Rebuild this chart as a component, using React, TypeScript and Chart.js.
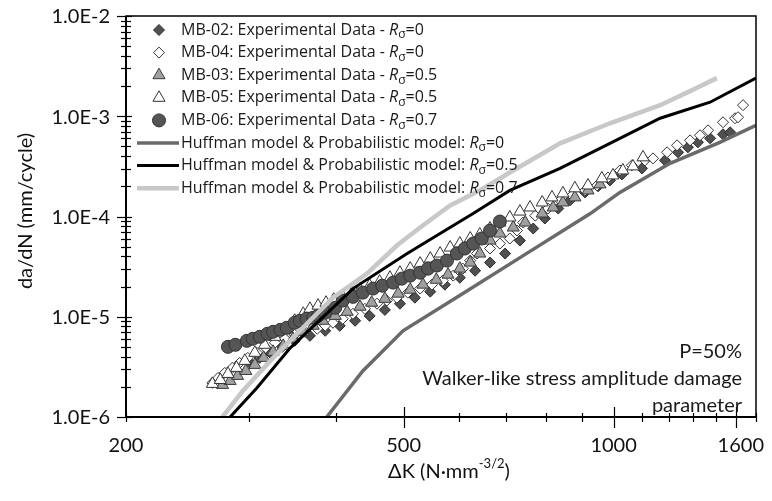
import React, { useEffect, useRef } from "react";
import { Chart, registerables } from "chart.js";

Chart.register(...registerables);

const FONT = "Lato, 'Open Sans', sans-serif";
const LEGEND_FONT = "'Open Sans', Lato, sans-serif";

// ΔK in N·mm^-3/2, da/dN in mm/cycle
const mb02DeltaK = [301, 311, 322, 335, 349, 367, 386, 405, 426, 447, 470, 494, 519, 546, 573, 602, 633, 665, 699, 734, 767, 797, 833, 866, 910, 950, 988, 1028, 1098, 1185, 1237, 1278, 1321, 1375, 1435, 1469];
const mb02Rate = [3.47e-6, 3.89e-6, 4.37e-6, 5.01e-6, 5.75e-6, 6.46e-6, 7.24e-6, 8.13e-6, 9.12e-6, 1.02e-5, 1.17e-5, 1.35e-5, 1.55e-5, 1.78e-5, 2.09e-5, 2.45e-5, 2.88e-5, 3.47e-5, 4.27e-5, 5.75e-5, 7.59e-5, 9.55e-5, 1.2e-4, 1.45e-4, 1.74e-4, 2.0e-4, 2.29e-4, 2.63e-4, 3.02e-4, 3.63e-4, 4.37e-4, 4.9e-4, 5.5e-4, 6.03e-4, 6.61e-4, 6.92e-4];

const mb04DeltaK = [266, 271, 277, 284, 291, 299, 308, 317, 327, 338, 349, 361, 376, 386, 396, 409, 423, 440, 458, 473, 489, 507, 528, 549, 569, 589, 608, 623, 637, 665, 687, 710, 727, 742, 772, 805, 838, 872, 910, 947, 982, 1021, 1062, 1109, 1139, 1193, 1233, 1287, 1330, 1366, 1435, 1493, 1508, 1533];
const mb04Rate = [2.19e-6, 2.45e-6, 2.75e-6, 3.09e-6, 3.47e-6, 3.89e-6, 4.37e-6, 4.9e-6, 5.5e-6, 6.03e-6, 6.61e-6, 7.08e-6, 7.59e-6, 8.13e-6, 8.71e-6, 9.55e-6, 1.07e-5, 1.2e-5, 1.35e-5, 1.45e-5, 1.55e-5, 1.74e-5, 1.91e-5, 2.09e-5, 2.29e-5, 2.57e-5, 3.02e-5, 3.63e-5, 4.27e-5, 4.79e-5, 5.37e-5, 6.03e-5, 7.24e-5, 8.71e-5, 1.02e-4, 1.2e-4, 1.45e-4, 1.62e-4, 1.82e-4, 2.04e-4, 2.45e-4, 2.88e-4, 3.24e-4, 3.63e-4, 3.8e-4, 4.37e-4, 5.13e-4, 5.75e-4, 6.46e-4, 7.24e-4, 8.71e-4, 9.55e-4, 9.77e-4, 1.29e-3];

const mb03DeltaK = [275, 282, 289, 297, 306, 315, 325, 336, 347, 359, 371, 383, 399, 415, 433, 450, 470, 491, 511, 533, 557, 579, 602, 623, 643, 665, 687, 718, 747, 790, 819, 846, 880, 919, 956];
const mb03Rate = [2.09e-6, 2.29e-6, 2.57e-6, 2.88e-6, 3.31e-6, 3.89e-6, 4.47e-6, 5.13e-6, 6.03e-6, 7.08e-6, 8.13e-6, 9.12e-6, 1.02e-5, 1.12e-5, 1.26e-5, 1.38e-5, 1.51e-5, 1.7e-5, 1.86e-5, 2.09e-5, 2.34e-5, 2.63e-5, 3.02e-5, 3.47e-5, 4.27e-5, 5.75e-5, 6.76e-5, 7.76e-5, 8.71e-5, 1.07e-4, 1.23e-4, 1.38e-4, 1.55e-4, 1.82e-4, 2.09e-4];

const mb05DeltaK = [266, 273, 280, 288, 296, 306, 316, 327, 338, 349, 359, 367, 377, 387, 397, 409, 422, 433, 447, 462, 478, 494, 511, 528, 546, 564, 583, 602, 623, 643, 665, 687, 710, 734, 759, 790, 816, 846, 880, 919, 962, 998, 1031, 1066, 1102];
const mb05Rate = [2.14e-6, 2.34e-6, 2.69e-6, 3.09e-6, 3.63e-6, 4.37e-6, 5.25e-6, 6.31e-6, 7.59e-6, 9.12e-6, 1.07e-5, 1.2e-5, 1.29e-5, 1.38e-5, 1.48e-5, 1.58e-5, 1.74e-5, 1.86e-5, 2.04e-5, 2.24e-5, 2.45e-5, 2.75e-5, 3.02e-5, 3.39e-5, 3.8e-5, 4.27e-5, 4.9e-5, 5.37e-5, 6.03e-5, 6.61e-5, 7.59e-5, 8.71e-5, 9.77e-5, 1.12e-4, 1.23e-4, 1.38e-4, 1.55e-4, 1.7e-4, 1.91e-4, 2.04e-4, 2.4e-4, 2.57e-4, 2.88e-4, 3.16e-4, 3.89e-4];

const mb06DeltaK = [280, 287, 298, 304, 311, 319, 325, 333, 340, 349, 355, 363, 371, 377, 386, 399, 409, 423, 437, 452, 466, 483, 497, 511, 528, 542, 558, 577, 596, 612, 629, 647, 665, 687];
const mb06Rate = [5.01e-6, 5.25e-6, 5.75e-6, 6.03e-6, 6.31e-6, 6.76e-6, 7.08e-6, 7.41e-6, 7.76e-6, 8.71e-6, 9.12e-6, 9.55e-6, 9.77e-6, 1.02e-5, 1.1e-5, 1.23e-5, 1.45e-5, 1.58e-5, 1.74e-5, 1.91e-5, 2.04e-5, 2.19e-5, 2.4e-5, 2.57e-5, 2.75e-5, 3.02e-5, 3.24e-5, 3.63e-5, 4.27e-5, 4.79e-5, 5.37e-5, 6.03e-5, 7.24e-5, 8.91e-5];

// Huffman & probabilistic model curves
const modelR0DeltaK = [388, 437, 499, 617, 742, 926, 1021, 1205, 1420, 1600];
const modelR0Rate = [1e-6, 2.88e-6, 7.24e-6, 1.82e-5, 4.07e-5, 1.07e-4, 1.74e-4, 3.39e-4, 5.5e-4, 8.13e-4];

const modelR05DeltaK = [282, 308, 344, 392, 423, 506, 564, 629, 710, 838, 988, 1166, 1375, 1600];
const modelR05Rate = [1e-6, 1.95e-6, 4.9e-6, 1.15e-5, 1.91e-5, 4.27e-5, 6.76e-5, 1.07e-4, 1.82e-4, 3.02e-4, 5.37e-4, 9.55e-4, 1.38e-3, 2.4e-3];

const modelR07DeltaK = [275, 294, 322, 355, 396, 443, 489, 528, 583, 643, 710, 838, 988, 1166, 1287, 1406];
const modelR07Rate = [1e-6, 1.82e-6, 3.63e-6, 7.24e-6, 1.55e-5, 2.69e-5, 5.13e-5, 7.76e-5, 1.29e-4, 1.82e-4, 2.75e-4, 5.37e-4, 8.51e-4, 1.29e-3, 1.78e-3, 2.4e-3];

// Axis ticks
const xTickValues = [200, 300, 400, 500, 600, 700, 800, 900, 1000, 1100, 1200, 1300, 1400, 1500, 1600];
const xMajorTicks = [500, 1000, 1500];
const xLabelValues = [200, 500, 1000, 1600];
const yDecades = [1e-6, 1e-5, 1e-4, 1e-3, 1e-2];
const yMantissas = [1, 2, 3, 4, 5, 6, 7, 8, 9];

const legendLabels = [
  "MB-02: Experimental Data - ",
  "MB-04: Experimental Data - ",
  "MB-03: Experimental Data - ",
  "MB-05: Experimental Data - ",
  "MB-06: Experimental Data - ",
  "Huffman model & Probabilistic model: ",
  "Huffman model & Probabilistic model: ",
  "Huffman model & Probabilistic model: ",
];
const legendRatios = ["0", "0", "0.5", "0.5", "0.7", "0", "0.5", "0.7"];

const noteLines = ["P=50%", "Walker-like stress amplitude damage", "parameter"];

const pts = (xs: number[], ys: number[]) => xs.map((x, i) => ({ x, y: ys[i] }));

const yTickValues: number[] = [];
yDecades.slice(0, -1).forEach((d) => yMantissas.forEach((m) => yTickValues.push(+(m * d).toPrecision(2))));
yTickValues.push(yDecades[yDecades.length - 1]);

type LegendItem = {
  kind: "point" | "line";
  style?: string;
  radius?: number;
  fill?: string;
  stroke?: string;
  width?: number;
};

const legendItems: LegendItem[] = [
  { kind: "point", style: "rectRot", radius: 5.5, fill: "#505050", stroke: "#2a2a2a" },
  { kind: "point", style: "rectRot", radius: 5.5, fill: "#ffffff", stroke: "#333333" },
  { kind: "point", style: "triangle", radius: 7, fill: "#a0a0a0", stroke: "#3a3a3a" },
  { kind: "point", style: "triangle", radius: 7, fill: "#ffffff", stroke: "#333333" },
  { kind: "point", style: "circle", radius: 6.5, fill: "#555555", stroke: "#333333" },
  { kind: "line", stroke: "#6a6a6a", width: 3.5 },
  { kind: "line", stroke: "#000000", width: 3 },
  { kind: "line", stroke: "#c8c8c8", width: 4.5 },
];

// legend marker shapes, same geometry as Chart.js point styles
function drawMarker(ctx: CanvasRenderingContext2D, style: string, r: number, x: number, y: number) {
  ctx.beginPath();
  if (style === "circle") {
    ctx.arc(x, y, r, 0, Math.PI * 2);
  } else if (style === "rectRot") {
    ctx.moveTo(x - r, y);
    ctx.lineTo(x, y - r);
    ctx.lineTo(x + r, y);
    ctx.lineTo(x, y + r);
  } else {
    const a = -Math.PI / 2;
    ctx.moveTo(x + Math.cos(a) * r, y + Math.sin(a) * r);
    ctx.lineTo(x + Math.cos(a + (2 * Math.PI) / 3) * r, y + Math.sin(a + (2 * Math.PI) / 3) * r);
    ctx.lineTo(x + Math.cos(a + (4 * Math.PI) / 3) * r, y + Math.sin(a + (4 * Math.PI) / 3) * r);
  }
  ctx.closePath();
  ctx.fill();
  ctx.stroke();
}

const decorations = {
  id: "decorations",
  afterDraw(chart: any) {
    const { ctx, chartArea: a } = chart;
    const xs = chart.scales.x;
    const ys = chart.scales.y;
    ctx.save();

    // frame
    ctx.strokeStyle = "#000";
    ctx.lineWidth = 1.5;
    ctx.strokeRect(a.left, a.top, a.right - a.left, a.bottom - a.top);
    ctx.lineWidth = 2;
    ctx.beginPath();
    ctx.moveTo(a.left, a.top);
    ctx.lineTo(a.left, a.bottom);
    ctx.lineTo(a.right, a.bottom);
    ctx.stroke();

    // y tick marks
    ctx.lineWidth = 1.2;
    yTickValues.forEach((v) => {
      const y = Math.round(ys.getPixelForValue(v)) + 0.5;
      const major = yDecades.some((d) => Math.abs(d - v) / d < 1e-6);
      ctx.beginPath();
      ctx.moveTo(a.left - (major ? 9 : 5), y);
      ctx.lineTo(a.left + (major ? 6 : 5), y);
      ctx.stroke();
    });
    // x tick marks
    xTickValues.forEach((v) => {
      const x = Math.round(xs.getPixelForValue(v)) + 0.5;
      const major = xMajorTicks.includes(v);
      ctx.beginPath();
      ctx.moveTo(x, a.bottom - (major ? 10 : 4));
      ctx.lineTo(x, a.bottom + (major ? 11 : 5));
      ctx.stroke();
    });

    // tick labels
    ctx.fillStyle = "#111";
    ctx.font = `20px ${FONT}`;
    ctx.textAlign = "right";
    ctx.textBaseline = "middle";
    yDecades.forEach((v) => {
      ctx.fillText(v.toExponential(1).toUpperCase(), a.left - 16, ys.getPixelForValue(v) + 1);
    });
    ctx.textAlign = "center";
    xLabelValues.forEach((v) => {
      const label = String(v);
      const w = ctx.measureText(label).width;
      let cx = xs.getPixelForValue(v);
      cx = Math.min(cx, chart.width - 8 - w / 2);
      ctx.fillText(label, cx, a.bottom + 29);
    });

    // axis titles
    const t1 = "ΔK (N·mm";
    const sup = "-3/2";
    const t2 = ")";
    ctx.font = `20px ${FONT}`;
    const w1 = ctx.measureText(t1).width;
    const w3 = ctx.measureText(t2).width;
    ctx.font = `13px ${FONT}`;
    const w2 = ctx.measureText(sup).width;
    const total = w1 + w2 + w3;
    let tx = 449 - total / 2;
    const ty = 472;
    ctx.textAlign = "left";
    ctx.font = `20px ${FONT}`;
    ctx.fillText(t1, tx, ty);
    tx += w1;
    ctx.font = `13px ${FONT}`;
    ctx.fillText(sup, tx, ty - 8);
    tx += w2;
    ctx.font = `20px ${FONT}`;
    ctx.fillText(t2, tx, ty);

    ctx.save();
    ctx.translate(26, 211);
    ctx.rotate(-Math.PI / 2);
    ctx.textAlign = "center";
    ctx.fillText("da/dN (mm/cycle)", 0, 0);
    ctx.restore();

    // legend
    const rowY0 = 30;
    const rowH = 22.6;
    legendItems.forEach((item, i) => {
      const cy = rowY0 + i * rowH;
      if (item.kind === "point") {
        ctx.fillStyle = item.fill!;
        ctx.strokeStyle = item.stroke!;
        ctx.lineWidth = 1;
        drawMarker(ctx, item.style!, item.radius!, 159, cy);
      } else {
        ctx.strokeStyle = item.stroke!;
        ctx.lineWidth = item.width!;
        ctx.beginPath();
        ctx.moveTo(137, cy);
        ctx.lineTo(179, cy);
        ctx.stroke();
      }
      ctx.fillStyle = "#1a1a1a";
      ctx.textAlign = "left";
      ctx.textBaseline = "middle";
      let x = 181;
      ctx.font = `16px ${LEGEND_FONT}`;
      ctx.fillText(legendLabels[i], x, cy);
      x += ctx.measureText(legendLabels[i]).width;
      ctx.font = `italic 16px ${LEGEND_FONT}`;
      ctx.fillText("R", x, cy);
      x += ctx.measureText("R").width;
      ctx.font = `12px ${LEGEND_FONT}`;
      ctx.fillText("σ", x, cy + 5);
      x += ctx.measureText("σ").width;
      ctx.font = `16px ${LEGEND_FONT}`;
      ctx.fillText("=" + legendRatios[i], x, cy);
    });

    // note
    ctx.font = `20px ${FONT}`;
    ctx.textAlign = "right";
    ctx.fillStyle = "#1a1a1a";
    noteLines.forEach((line, i) => {
      ctx.fillText(line, 742, 352 + i * 27);
    });

    ctx.restore();
  },
};

export default function App() {
  const ref = useRef<HTMLCanvasElement>(null);

  useEffect(() => {
    if (!ref.current) return;
    const pointSet = (label: string, xs: number[], ys: number[], style: string, radius: number, fill: string, stroke: string) => ({
      label,
      data: pts(xs, ys),
      showLine: false,
      pointStyle: style,
      pointRadius: radius,
      pointBackgroundColor: fill,
      pointBorderColor: stroke,
      pointBorderWidth: 1,
    });
    const lineSet = (label: string, xs: number[], ys: number[], color: string, width: number) => ({
      label,
      data: pts(xs, ys),
      showLine: true,
      borderColor: color,
      borderWidth: width,
      pointRadius: 0,
      fill: false,
      tension: 0,
    });

    const chart = new Chart(ref.current, {
      type: "scatter",
      data: {
        datasets: [
          lineSet("Huffman model & Probabilistic model: Rσ=0.7", modelR07DeltaK, modelR07Rate, "#c8c8c8", 4.5),
          lineSet("Huffman model & Probabilistic model: Rσ=0.5", modelR05DeltaK, modelR05Rate, "#000000", 3),
          lineSet("Huffman model & Probabilistic model: Rσ=0", modelR0DeltaK, modelR0Rate, "#6a6a6a", 3.5),
          pointSet("MB-06: Experimental Data - Rσ=0.7", mb06DeltaK, mb06Rate, "circle", 6.5, "#555555", "#333333"),
          pointSet("MB-05: Experimental Data - Rσ=0.5", mb05DeltaK, mb05Rate, "triangle", 7, "#ffffff", "#333333"),
          pointSet("MB-03: Experimental Data - Rσ=0.5", mb03DeltaK, mb03Rate, "triangle", 7, "#a0a0a0", "#3a3a3a"),
          pointSet("MB-04: Experimental Data - Rσ=0", mb04DeltaK, mb04Rate, "rectRot", 5.5, "#ffffff", "#333333"),
          pointSet("MB-02: Experimental Data - Rσ=0", mb02DeltaK, mb02Rate, "rectRot", 5.5, "#505050", "#2a2a2a"),
        ] as any,
      },
      options: {
        responsive: false,
        animation: false,
        layout: { padding: { top: 16, right: 16, left: 0, bottom: 0 } },
        plugins: { legend: { display: false }, tooltip: { enabled: false } },
        scales: {
          x: {
            type: "logarithmic",
            min: 200,
            max: 1600,
            grid: { display: false, drawTicks: false },
            border: { display: false },
            ticks: { display: false },
            afterBuildTicks: (s: any) => {
              s.ticks = xTickValues.map((value) => ({ value }));
            },
            afterFit: (s: any) => {
              s.height = 84;
            },
          },
          y: {
            type: "logarithmic",
            min: 1e-6,
            max: 1e-2,
            grid: { display: false, drawTicks: false },
            border: { display: false },
            ticks: { display: false },
            afterBuildTicks: (s: any) => {
              s.ticks = yTickValues.map((value) => ({ value }));
            },
            afterFit: (s: any) => {
              s.width = 126;
            },
          },
        },
      },
      plugins: [decorations],
    });
    return () => chart.destroy();
  }, []);

  return (
    <div style={{ position: "fixed", left: 0, top: 0, width: 772, height: 501, background: "#fff" }}>
      <canvas ref={ref} width={772} height={501} />
    </div>
  );
}
